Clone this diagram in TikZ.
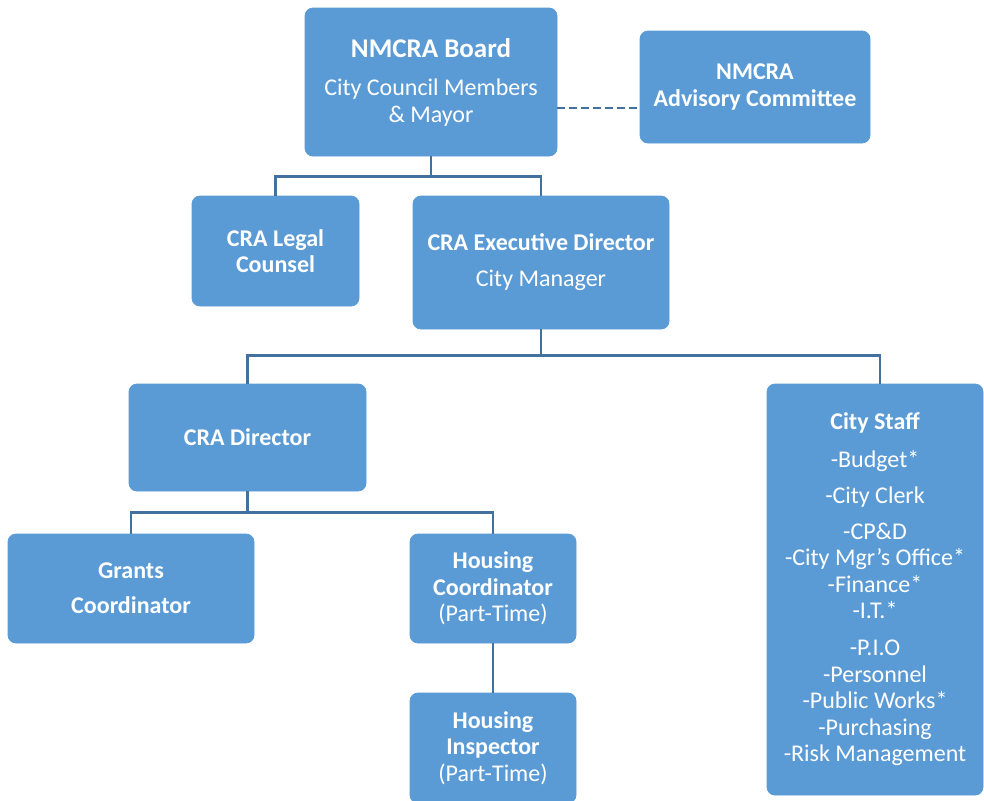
\documentclass[tikz,border=0pt]{standalone}
\usepackage{fontspec}
\setmainfont{Carlito}
\usetikzlibrary{positioning,calc}

\definecolor{boxblue}{RGB}{91,155,213}
\definecolor{linkblue}{RGB}{65,113,156}

\begin{document}
\begin{tikzpicture}[x=0.5pt, y=-0.5pt]
	\useasboundingbox (0, 0) rectangle (984, 800);
	\begin{scope}
		\tikzstyle{box}=[draw=boxblue, fill=boxblue, rounded corners=4pt, text=white, align=center, inner sep=0pt, font=\fontsize{12}{13.25}\selectfont]
		\tikzstyle{link}=[draw=linkblue, line width=1.1pt]

		\node[box, minimum width=126pt, minimum height=74pt] (board) at (431, 82)
			{{\fontsize{13.5}{13.25}\selectfont\textbf{NMCRA Board}}\\[6pt] City Council Members\\ \& Mayor};
		\node[box, minimum width=115pt, minimum height=56pt] (adv) at (755, 87)
			{\textbf{NMCRA}\\ \textbf{Advisory Committee}};

		\node[box, minimum width=83.5pt, minimum height=55pt] (legal) at (275.5, 251)
			{\textbf{CRA Legal}\\ \textbf{Counsel}};
		\node[box, minimum width=128pt, minimum height=66.5pt] (exec) at (541, 262.5)
			{\textbf{CRA Executive Director}\\[4.75pt] City Manager};

		\node[box, minimum width=118.5pt, minimum height=53.5pt] (dir) at (247.5, 437.5)
			{\textbf{CRA Director}};
		\node[box, minimum width=108pt, minimum height=205.5pt] (staff) at (875, 589.5)
			{\textbf{City Staff}\\[5.5pt] -Budget*\\[4.75pt] -City Clerk\\[4.75pt] -CP\&D\\ -City Mgr{\char"0027}s Office*\\
			 -Finance*\\ -I.T.*\\[5.25pt] -P.I.O\\ -Personnel\\ -Public Works*\\ -Purchasing\\ -Risk Management};

		\node[box, minimum width=123pt, minimum height=54.5pt] (grants) at (131, 588.5)
			{\textbf{Grants}\\[4.25pt] \textbf{Coordinator}};
		\node[box, minimum width=83pt, minimum height=54.5pt] (hcoord) at (493, 588.5)
			{\textbf{Housing}\\ \textbf{Coordinator}\\ (Part-Time)};
		\node[box, minimum width=83pt, minimum height=55pt] (hinsp) at (493, 748)
			{\textbf{Housing}\\ \textbf{Inspector}\\ (Part-Time)};

		% board level
		\draw[link, dashed, dash pattern=on 4pt off 2pt] ([yshift=-13pt]board.east) -- ([yshift=-10.5pt]adv.west);
		\draw[link] (board.south) -- ++(0, 20) -| (legal.north);
		\draw[link] (board.south) -- ++(0, 20) -| (exec.north);

		% executive level
		\draw[link] (exec.south) -- ++(0, 26) -| (dir.north);
		\draw[link] (exec.south) -- ++(0, 26) -| ([xshift=2.5pt]staff.north);

		% director level
		\draw[link] (dir.south) -- ++(0, 21) -| (grants.north);
		\draw[link] (dir.south) -- ++(0, 21) -| (hcoord.north);
		\draw[link] (hcoord.south) -- (hinsp.north);
	\end{scope}
\end{tikzpicture}
\end{document}
